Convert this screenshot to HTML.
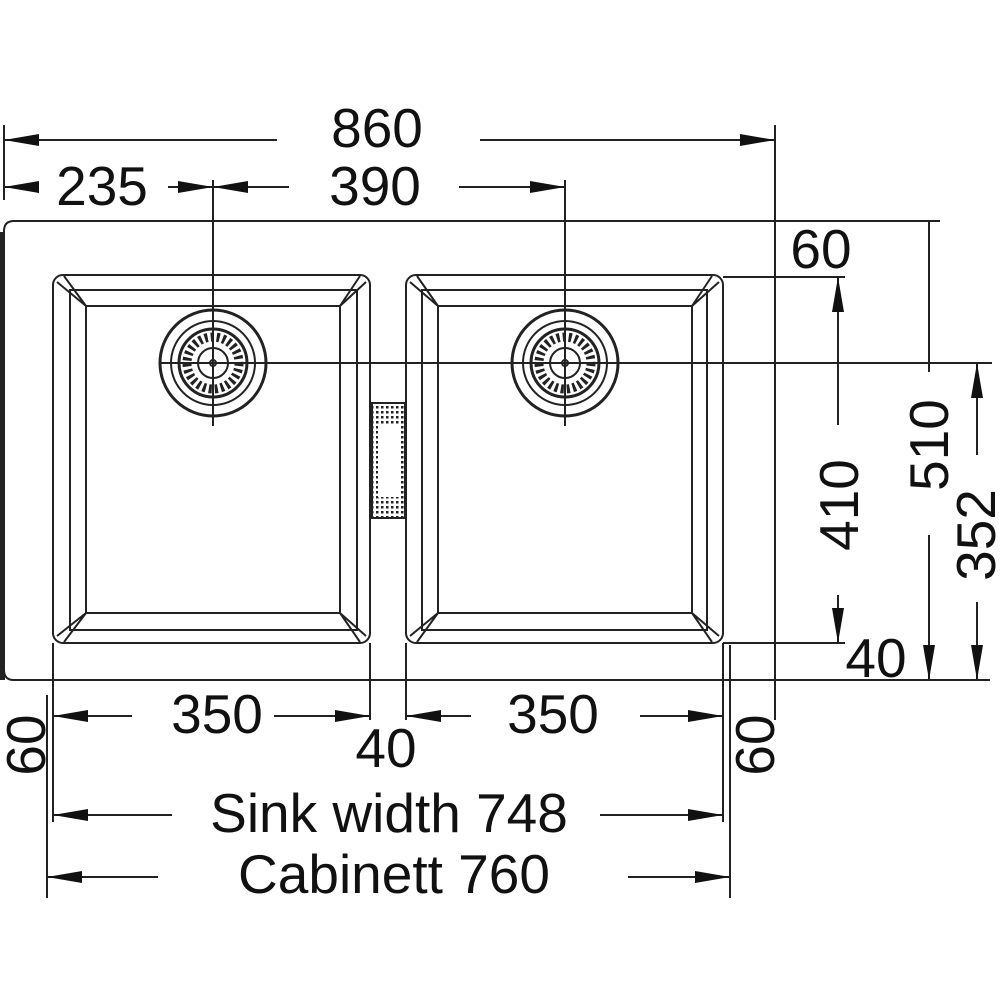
<!DOCTYPE html>
<html><head><meta charset="utf-8"><style>
html,body{margin:0;padding:0;background:#fff;}
svg{display:block;}
text{font-family:"Liberation Sans",Arial,sans-serif;font-size:55px;fill:#111;}
</style></head><body>
<svg width="1000" height="1000" viewBox="0 0 1000 1000" xmlns="http://www.w3.org/2000/svg">
<defs>
<marker id="a" markerWidth="36" markerHeight="14" refX="35" refY="7" orient="auto-start-reverse" markerUnits="userSpaceOnUse">
<path d="M0,1 L35,7 L0,13 Z" fill="#111"/>
</marker>
<pattern id="dots" width="5" height="5" patternUnits="userSpaceOnUse"><rect x="1" y="1" width="2.5" height="2.5" fill="#222"/></pattern>
</defs>
<g stroke="#222" stroke-width="2" fill="none">
<path d="M4,680 L4,231 Q4,221 14,221 L940,221"/>
<line x1="1" y1="232" x2="1" y2="680" stroke-width="4"/>
<path d="M4,670 Q4,680 14,680 L990,680"/>
<line x1="775" y1="125" x2="775" y2="720"/>
<line x1="4" y1="125" x2="4" y2="200"/>
<rect x="53" y="275" width="317" height="368" rx="10"/>
<rect x="70" y="290" width="287" height="340"/>
<rect x="86" y="306" width="254" height="307"/>
<path d="M57,282 L86,306 M64,276 L86,306 M366,282 L340,306 M360,276 L340,306 M57,636 L86,613 M64,642 L86,613 M366,636 L340,613 M360,642 L340,613"/>
<rect x="406" y="275" width="317" height="368" rx="10"/>
<rect x="422" y="290" width="285" height="340"/>
<rect x="438" y="306" width="254" height="307"/>
<path d="M410,282 L438,306 M417,276 L438,306 M719,282 L692,306 M712,276 L692,306 M410,636 L438,613 M417,642 L438,613 M719,636 L692,613 M712,642 L692,613"/>
<rect x="372" y="403" width="33" height="115" fill="url(#dots)"/>
<rect x="378" y="425" width="21" height="72" fill="#fff" stroke="none"/>
<g>
<circle cx="213" cy="363" r="53" stroke-width="3"/>
<circle cx="213" cy="363" r="42"/>
<circle cx="213" cy="363" r="34" stroke-width="3"/>
<circle cx="213" cy="363" r="26" stroke-width="9" stroke-dasharray="3 3"/>
<circle cx="213" cy="363" r="15"/>
<circle cx="213" cy="363" r="3"/>
</g>
<g>
<circle cx="565" cy="363" r="53" stroke-width="3"/>
<circle cx="565" cy="363" r="42"/>
<circle cx="565" cy="363" r="34" stroke-width="3"/>
<circle cx="565" cy="363" r="26" stroke-width="9" stroke-dasharray="3 3"/>
<circle cx="565" cy="363" r="15"/>
<circle cx="565" cy="363" r="3"/>
</g>
<line x1="213" y1="180" x2="213" y2="426"/>
<line x1="565" y1="180" x2="565" y2="426"/>
<line x1="160" y1="363" x2="992" y2="363"/>
<line x1="277" y1="140" x2="4" y2="140" marker-end="url(#a)"/>
<line x1="480" y1="140" x2="775" y2="140" marker-end="url(#a)"/>
<line x1="38" y1="187" x2="4" y2="187" marker-end="url(#a)"/>
<line x1="168" y1="187" x2="213" y2="187" marker-end="url(#a)"/>
<line x1="289" y1="187" x2="213" y2="187" marker-end="url(#a)"/>
<line x1="459" y1="187" x2="565" y2="187" marker-end="url(#a)"/>
<line x1="723" y1="277" x2="845" y2="277"/>
<line x1="723" y1="643" x2="845" y2="643"/>
<line x1="838" y1="425" x2="838" y2="277" marker-end="url(#a)"/>
<line x1="838" y1="595" x2="838" y2="643" marker-end="url(#a)"/>
<line x1="929" y1="221" x2="929" y2="372"/>
<line x1="929" y1="535" x2="929" y2="680" marker-end="url(#a)"/>
<line x1="977" y1="455" x2="977" y2="363" marker-end="url(#a)"/>
<line x1="977" y1="602" x2="977" y2="680" marker-end="url(#a)"/>
<line x1="53" y1="643" x2="53" y2="822"/>
<line x1="47" y1="695" x2="47" y2="898"/>
<line x1="370" y1="643" x2="370" y2="720"/>
<line x1="406" y1="643" x2="406" y2="720"/>
<line x1="723" y1="643" x2="723" y2="822"/>
<line x1="730" y1="645" x2="730" y2="898"/>
<line x1="132" y1="716" x2="53" y2="716" marker-end="url(#a)"/>
<line x1="274" y1="716" x2="370" y2="716" marker-end="url(#a)"/>
<line x1="471" y1="716" x2="406" y2="716" marker-end="url(#a)"/>
<line x1="640" y1="716" x2="723" y2="716" marker-end="url(#a)"/>
<line x1="172" y1="815" x2="53" y2="815" marker-end="url(#a)"/>
<line x1="600" y1="815" x2="723" y2="815" marker-end="url(#a)"/>
<line x1="158" y1="877" x2="47" y2="877" marker-end="url(#a)"/>
<line x1="628" y1="877" x2="730" y2="877" marker-end="url(#a)"/>
</g>
<g>
<text x="377" y="147" text-anchor="middle">860</text>
<text x="102" y="205" text-anchor="middle">235</text>
<text x="375" y="205" text-anchor="middle">390</text>
<text x="821" y="268" text-anchor="middle">60</text>
<text x="876" y="677" text-anchor="middle">40</text>
<text x="217" y="733" text-anchor="middle">350</text>
<text x="553" y="733" text-anchor="middle">350</text>
<text x="386" y="767" text-anchor="middle">40</text>
<text x="389" y="832" text-anchor="middle">Sink width 748</text>
<text x="394" y="893" text-anchor="middle">Cabinett 760</text>
<text transform="translate(858,505) rotate(-90)" text-anchor="middle">410</text>
<text transform="translate(948,445) rotate(-90)" text-anchor="middle">510</text>
<text transform="translate(995,535) rotate(-90)" text-anchor="middle">352</text>
<text transform="translate(45,745) rotate(-90)" text-anchor="middle">60</text>
<text transform="translate(774,745) rotate(-90)" text-anchor="middle">60</text>
</g>
</svg>
</body></html>
